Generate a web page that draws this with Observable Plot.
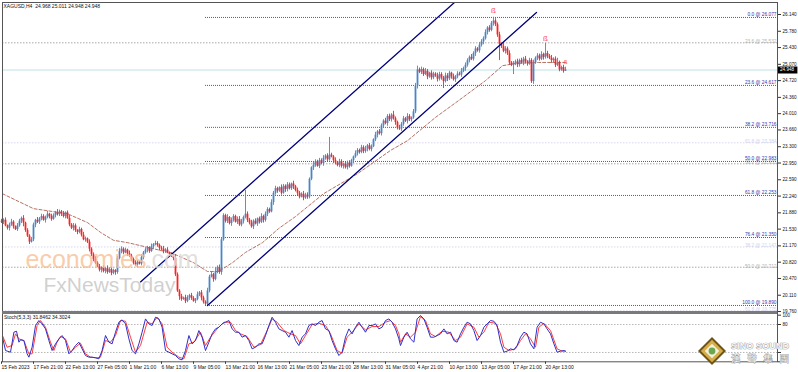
<!DOCTYPE html>
<html><head><meta charset="utf-8">
<script src="https://cdn.jsdelivr.net/npm/d3@7"></script>
<script src="https://cdn.jsdelivr.net/npm/@observablehq/plot@0.6"></script>
<style>
body{margin:0;background:#fff;}
#wrap{position:relative;width:798px;height:372px;overflow:hidden;background:#fff;}
#wrap svg{position:absolute;left:0;}
</style></head><body><div id="wrap"></div>
<script>
// ---------- DATA ----------
const headerText = "XAGUSD,H4  24.968 25.011 24.948 24.948";
const stochTitle = "Stoch(5,3,3) 31.8462 34.3024";
const firstOpen = 21.70;
const closes = [
21.68,
21.72,21.60,21.55,21.62,21.68,21.58,21.52,
21.60,21.70,21.76,21.66,
21.50,21.38,21.25,
21.30,21.62,21.72,
21.68,21.75,21.80,21.72,21.78,21.85,21.80,21.74,21.82,21.88,21.84,21.90,21.86,21.80,21.88,
21.76,21.62,21.55,21.60,21.50,21.46,21.52,
21.40,21.30,21.32,21.25,
21.10,20.98,20.88,20.80,
20.72,20.65,20.70,20.62,20.68,20.60,20.66,20.58,20.64,20.60,
20.90,21.05,
21.10,21.02,21.08,21.00,20.95,
20.88,20.80,20.76,20.82,20.78,
20.92,21.02,21.08,21.12,21.05,
21.15,21.20,21.22,21.18,21.12,
21.10,21.05,21.08,21.02,20.98,20.95,20.90,
20.55,20.20,20.08,
20.02,20.05,19.98,20.06,20.10,20.04,19.98,20.02,20.12,20.16,20.05,19.96,19.92,
20.20,20.50,20.55,
20.45,20.62,20.70,
20.60,21.30,21.82,
21.70,21.78,21.65,21.72,21.80,21.68,21.74,21.62,21.70,21.78,21.85,21.72,
21.66,21.58,21.70,21.64,21.75,21.68,21.80,21.72,
21.85,21.95,21.90,
22.10,22.30,22.40,22.35,
22.42,22.30,22.45,22.38,22.48,22.40,22.50,22.44,22.36,
22.30,22.22,22.28,
22.20,22.26,22.22,
22.60,22.85,
22.90,22.98,22.88,23.00,22.94,23.05,23.10,23.02,23.12,23.08,23.00,22.95,22.90,22.98,22.88,
22.92,22.85,22.95,22.88,23.00,23.08,
23.15,23.22,23.18,23.28,23.20,23.25,23.32,23.24,23.30,
23.45,23.55,23.62,23.58,
23.75,23.85,23.80,23.95,23.88,23.98,23.90,23.82,
23.70,23.68,
23.78,23.90,23.85,23.95,23.88,23.92,24.05,
24.60,24.95,
24.90,24.96,24.85,24.92,24.80,24.88,24.78,24.86,24.82,
24.75,24.85,24.78,24.70,24.82,24.76,24.88,24.80,24.74,
24.80,24.86,24.84,24.92,24.98,25.05,25.15,25.22,25.18,
25.30,25.40,25.36,25.48,25.55,
25.62,25.75,25.85,25.80,25.95,26.00,25.92,
25.70,25.50,25.45,
25.35,25.40,25.30,
25.10,25.05,
25.08,25.12,25.06,25.15,25.10,25.18,25.12,25.08,25.15,
24.70,
25.10,25.20,25.25,25.18,25.28,25.22,25.30,25.24,
25.20,25.15,25.18,25.05,25.10,24.95,25.00,24.92,24.948];
// upper / lower wick lengths in cents
const wickUp = [
4,3,5,2,4,6,3,2,5,4,3,6,2,4,3,5,4,2,6,3,
5,4,3,6,2,5,4,3,7,4,3,5,2,4,6,3,5,4,2,5,
3,6,4,2,5,3,4,6,3,5,2,4,3,6,4,5,3,2,4,6,
5,3,4,2,6,4,3,5,4,2,6,3,5,4,3,6,2,5,4,3,
4,6,3,5,2,4,3,8,4,3,5,2,6,4,3,5,4,2,6,3,
5,4,3,6,4,5,3,8,4,6,5,4,3,6,2,5,4,3,5,6,
4,3,51,5,4,6,3,5,2,4,6,3,5,4,3,6,4,5,3,2,
6,4,3,5,4,2,6,3,5,4,3,6,4,5,3,2,6,4,3,5,
4,6,3,5,38,4,3,6,2,5,4,3,6,4,5,3,2,6,4,3,
5,4,6,3,5,4,2,6,3,5,4,3,6,4,5,3,8,4,3,6,
4,5,3,6,4,2,5,6,8,4,5,3,6,4,2,5,4,3,6,5,
4,3,6,5,4,2,6,3,5,4,6,3,5,4,3,6,4,5,3,6,
5,4,6,3,5,4,8,5,4,6,3,8,5,4,6,3,5,4,6,3,
5,4,6,3,5,4,6,3,5,4,6,3,22,5,4,6,3,5,10,4,
3,5,6];
const wickDn = [
3,5,2,4,6,3,5,2,4,3,5,8,4,3,5,2,4,6,3,5,
4,2,6,3,5,4,2,5,3,4,6,3,5,2,4,3,6,4,5,3,
4,2,5,3,6,4,5,3,2,4,6,3,5,4,2,5,3,6,4,3,
5,4,2,6,3,5,4,3,6,2,4,5,3,6,4,2,5,3,4,6,
3,5,4,2,6,3,5,4,3,8,4,2,5,3,6,4,2,5,3,4,
6,4,3,5,4,2,6,3,5,4,6,3,4,5,3,6,4,2,5,3,
4,6,3,5,4,3,6,2,5,4,3,6,4,5,3,2,6,4,5,3,
4,2,6,5,3,4,6,3,5,4,2,6,3,5,4,3,6,4,2,5,
3,6,4,5,3,2,6,4,3,5,4,6,3,5,4,2,6,3,5,4,
3,5,4,6,3,5,2,4,6,3,5,4,3,6,4,5,3,6,4,3,
5,4,3,6,4,5,3,4,6,3,5,4,2,6,3,5,4,3,6,4,
5,15,3,6,4,5,3,6,4,2,5,3,6,4,5,3,4,6,3,5,
4,6,3,5,4,3,6,4,5,35,4,3,6,4,5,3,20,4,6,5,
3,6,4,5,3,4,6,3,5,4,3,6,4,5,3,6,4,5,3,4,
3,4,0];
// moving average (bar index, price)
const maLine = [[0.5,22.29],[16,21.97],[33,21.86],[43,21.67],[49.5,21.46],[56,21.29],[63,21.24],[73,21.14],
[85.5,21.01],[96,20.81],[103,20.62],[108.5,20.62],[115.5,20.81],[122,21.03],[130.5,21.24],[138.5,21.54],
[147,21.80],[161,22.29],[178,22.72],[194.5,23.22],[203,23.43],[217,23.93],[228.5,24.29],[242,24.72],
[250.5,25.04],[257,25.09],[268.5,25.11],[282,25.11]];
// channel (bar index, price)
const channelUpper = [[69.5,20.396],[230,26.533]];
const channelLower = [[103,19.889],[267.5,26.183]];
// Fibonacci (main, blue) from the 9 Mar low
const fibStartBar = 102;
const fibLevels = [0.0,23.6,38.2,50.0,61.8,76.4,100.0];
const fibPrices = [26.077,24.617,23.716,22.983,22.253,21.350,19.890];
// other fib lines (full width)
const fib2Levels = [23.6,61.8,38.2,38.2,50.0,61.8];
const fib2Prices = [25.532,23.384,22.933,21.147,20.712,19.775];
const fib2Tone = ["grey","lavender","grey","lavender","grey","lavender"];
// fractal markers (bar index, price)
const fractalBars = [246,272,282];
const fractalPrices = [26.226,25.624,25.11];
const fractalSizes = [8,8,6];
// price axis
const priceTicks = [26.140,25.780,25.430,25.070,24.720,24.360,24.010,23.660,23.300,22.950,22.590,22.240,21.880,21.530,21.170,20.820,20.470,20.110,19.760];
// time axis
const tickBars = [0,16,32,48,64,80,96,112,128,144,160,176,192,208,224,240,256,272];
const tickLabels = ["15 Feb 2023","17 Feb 21:00","22 Feb 13:00","27 Feb 05:00","1 Mar 21:00","6 Mar 13:00","9 Mar 05:00","13 Mar 21:00","16 Mar 13:00","21 Mar 05:00","23 Mar 21:00","28 Mar 13:00","31 Mar 05:00","4 Apr 21:00","10 Apr 13:00","13 Apr 05:00","17 Apr 21:00","20 Apr 13:00"];
// stochastic (bar index, value)
const stochK = [[0.5,52.8],[2,24.2],[4.5,20.6],[6.2,63.5],[7.5,65.6],[8.7,42.1],[9.5,47.1],[11.2,45.6],[12.8,17.1],[13.7,9.9],[15.3,31.3],[17,77.8],[18.7,88.5],[20.3,81.3],[22,70.6],[23.7,45.6],[25.3,24.2],[27,38.5],[28.7,49.2],[30.3,56.3],[32,45.6],[33.7,17.1],[35.3,24.2],[37,34.9],[38.7,42.1],[40.3,27.8],[42,13.5],[43.7,9.9],[45.3,9.9],[47,8.5],[48.7,6.4],[50.3,24.2],[52,56.3],[53.7,42.1],[55.3,38.5],[57,63.5],[58.7,84.9],[60.3,89.9],[62,81.3],[63.7,49.2],[65.3,24.2],[67,17.1],[68.7,38.5],[70.3,63.5],[72,92.0],[73.7,81.3],[75.3,77.8],[77,95.6],[78.7,92.0],[80.3,74.2],[82,24.2],[83.7,20.6],[85.3,17.1],[87,13.5],[88.7,6.4],[90.3,4.2],[92,24.2],[93.7,56.3],[95.3,38.5],[97,45.6],[98.7,67.0],[100.3,52.8],[102,24.2],[103.7,42.1],[105.3,59.9],[107,70.6],[108.7,74.2],[110.3,81.3],[112,84.9],[113.7,88.5],[115.3,70.6],[117,63.5],[118.7,63.5],[120.3,52.8],[122,56.3],[123.7,45.6],[125.3,27.8],[127,31.3],[128.7,38.5],[130.3,38.5],[132,56.3],[133.7,77.8],[135.3,95.6],[137,84.9],[138.7,70.6],[140.3,67.0],[142,63.5],[143.7,52.8],[145.3,67.0],[147,45.6],[148.7,34.9],[150.3,52.8],[152,59.9],[153.7,77.8],[155.3,81.3],[157,77.8],[158.7,84.9],[160.3,88.5],[162,70.6],[163.7,67.0],[165.3,45.6],[167,27.8],[168.7,13.5],[170.3,20.6],[172,52.8],[173.7,70.6],[175.3,59.9],[177,74.2],[178.7,84.9],[180.3,74.2],[182,63.5],[183.7,77.8],[185.3,77.8],[187,81.3],[188.7,70.6],[190.3,74.2],[192,88.5],[193.7,92.0],[195.3,84.9],[197,70.6],[198.7,49.2],[199.5,34.9],[201.2,52.8],[202.8,63.5],[204.5,49.2],[206.2,42.1],[207.8,92.0],[209.5,99.2],[211.2,92.0],[212.8,74.2],[214.5,52.8],[216.2,52.8],[217.8,56.3],[219.5,59.9],[221.2,70.6],[222.8,59.9],[224.5,63.5],[226.2,45.6],[227.8,42.1],[229.5,59.9],[231.2,74.2],[232.8,84.9],[234.5,81.3],[236.2,67.0],[237.8,45.6],[239.5,56.3],[241.2,74.2],[242.8,81.3],[244.5,88.5],[246.2,87.0],[247.8,77.8],[249.5,42.1],[251.2,20.6],[252.8,22.8],[254.5,27.8],[256.2,25.6],[257.8,34.9],[259.5,52.8],[261.2,63.5],[262.8,59.9],[264.5,38.5],[266.2,27.8],[267.8,74.2],[269.5,84.9],[271.2,81.3],[272.8,70.6],[274.5,59.9],[276.2,38.5],[277.8,20.6],[279.5,22.8],[281.2,24.2],[282,22.8]];
const stochD = [[0.5,56.3],[2.8,31.3],[5.3,34.9],[7,59.9],[8.7,49.2],[11.2,45.6],[13.7,17.1],[15.3,17.1],[17.8,77.8],[19.5,88.5],[22,74.2],[24.5,42.1],[26.2,24.2],[27.8,42.1],[29.5,54.2],[32,49.2],[34.5,20.6],[37,31.3],[39.5,39.9],[42,17.1],[44.5,9.9],[47.8,8.5],[49.5,9.9],[52,45.6],[54.5,42.1],[57,56.3],[59.5,88.5],[62,87.0],[64.5,52.8],[67,20.6],[69.5,34.9],[72.8,84.9],[75.3,81.3],[77.8,95.6],[80.3,81.3],[82.8,31.3],[85.3,20.6],[88.7,9.9],[91.2,6.4],[93.7,38.5],[96.2,42.1],[99.5,63.5],[102,34.9],[104.5,52.8],[107.8,70.6],[111.2,84.9],[114.5,84.9],[117,67.0],[119.5,59.9],[122.8,54.2],[126.2,31.3],[129.5,37.1],[132.8,67.0],[135.3,92.0],[137.8,84.9],[141.2,67.0],[144.5,59.9],[147,56.3],[149.5,38.5],[152,56.3],[155.3,79.9],[158.7,82.7],[162,77.8],[164.5,59.9],[167.8,24.2],[170.3,18.5],[172.8,52.8],[175.3,63.5],[178.7,81.3],[182,68.5],[185.3,75.6],[188.7,75.6],[192,84.9],[194.5,88.5],[197,77.8],[198.7,59.9],[199.5,42.1],[202,59.9],[204.5,52.8],[207,63.5],[209.5,97.0],[212,88.5],[214.5,59.9],[217,54.2],[220.3,65.6],[223.7,63.5],[227,45.6],[229.5,52.8],[232.8,81.3],[236.2,74.2],[238.7,52.8],[241.2,63.5],[243.7,84.9],[247,82.7],[249.5,59.9],[251.2,31.3],[253.7,24.2],[257,27.8],[259.5,45.6],[262,59.9],[264.5,49.2],[267,31.3],[268.7,74.2],[271.2,82.7],[274.5,67.0],[277.8,27.8],[280.3,22.8],[282,22.8]];
const stochLevels = [80,20];
const stochTicks = [100,80,20,0];
const stochTickLabels = ["100","80","",""]; // 20 and 0 are hidden behind the logo in the reference

// ---------- BUILD ----------
const FONT = "Liberation Sans, Arial, sans-serif";
const UP = "#4a84c4", DN = "#ff2020";
const xMax = 388;
const bars = closes.map((c, i) => {
  const o = i ? closes[i - 1] : firstOpen;
  return {i, o, c, h: Math.max(o, c) + wickUp[i] / 100, l: Math.min(o, c) - wickDn[i] / 100, up: c >= o};
});
const lastClose = closes[closes.length - 1];
const fibMain = fibLevels.map((lv, k) => ({level: lv, price: fibPrices[k]}));
const fibOther = fib2Levels.map((lv, k) => ({level: lv, price: fib2Prices[k], tone: fib2Tone[k]}));
const toneLine = {grey: "#a9a9a9", lavender: "#d6d6f0"};
const toneText = {grey: "#b4b4b4", lavender: "#d2d2ee"};
const fractals = fractalBars.map((b, k) => ({i: b, p: fractalPrices[k], s: fractalSizes[k]}));
const fibText = d => `${d.level.toFixed(1)} @ ${d.price.toFixed(3)}`;

const main = Plot.plot({
  width: 798, height: 313,
  marginLeft: 2, marginRight: 21, marginTop: 2, marginBottom: 1,
  x: {domain: [0.5, xMax], axis: null},
  y: {domain: [19.739, 26.398], axis: null},
  color: {type: "identity"},
  style: {fontFamily: FONT, background: "transparent", overflow: "visible"},
  marks: [
    Plot.ruleY(fibOther, {y: "price", stroke: d => toneLine[d.tone], strokeDasharray: "1.5,1.5"}),
    Plot.text(fibOther, {x: () => xMax, y: "price", text: fibText, textAnchor: "end", dx: -1, dy: -1, fontSize: 4.8, fill: d => toneText[d.tone]}),
    Plot.ruleY([lastClose], {stroke: "#bfe1ea"}),
    Plot.ruleY(fibMain, {y: "price", x1: () => fibStartBar, x2: () => xMax, stroke: "#3c3cd0", strokeDasharray: "1,1", strokeOpacity: 0.9}),
    Plot.text(fibMain, {x: () => xMax, y: "price", text: fibText, textAnchor: "end", dx: -1, dy: -2.8, fontSize: 4.8, fill: "#3434b0"}),
    Plot.line(maLine, {x: d => d[0], y: d => d[1], stroke: "#b0604f", strokeDasharray: "3,2", strokeWidth: 0.9}),
    Plot.ruleX(bars, {x: "i", y1: "l", y2: "h", stroke: d => d.up ? UP : DN, strokeWidth: 0.9}),
    Plot.ruleX(bars, {x: "i", y1: "o", y2: "c", stroke: d => d.up ? UP : DN, strokeWidth: 1.8}),
    Plot.line(channelUpper, {x: d => d[0], y: d => d[1], stroke: "#00007a", strokeWidth: 1.3, clip: true}),
    Plot.line(channelLower, {x: d => d[0], y: d => d[1], stroke: "#00007a", strokeWidth: 1.3, clip: true}),
    Plot.text(fractals, {x: "i", y: "p", text: () => "ß", fill: "#ff3a3a", fontSize: d => d.s}),
    Plot.text(["economies"], {frameAnchor: "top-left", dx: 23, dy: 257.5, fontSize: 25, textAnchor: "start", lineAnchor: "middle", fill: "#f7bf96", fillOpacity: 0.8}),
    Plot.text([".com"], {frameAnchor: "top-left", dx: 142, dy: 257.5, fontSize: 25, textAnchor: "start", lineAnchor: "middle", fill: "#dedad8", fillOpacity: 0.85}),
    Plot.text(["FxNewsToday"], {frameAnchor: "top-left", dx: 41, dy: 283, fontSize: 21, textAnchor: "start", lineAnchor: "middle", fill: "#c8c8c8", fillOpacity: 0.85}),
    Plot.text([headerText], {frameAnchor: "top-left", dx: 1, dy: 1.5, fontSize: 5, textAnchor: "start", fill: "#111"}),
    Plot.axisY(priceTicks, {anchor: "right", tickSize: 3, tickPadding: 2, fontSize: 4.6, tickFormat: d => d.toFixed(3), stroke: "#333", fill: "#111"}),
    Plot.ruleY([lastClose], {x1: () => xMax, x2: () => xMax + 10.2, stroke: "#000", strokeWidth: 7}),
    Plot.text([lastClose], {x: () => xMax, y: d => d, dx: 2.5, text: d => d.toFixed(3), textAnchor: "start", fontSize: 4.6, fill: "#fff"}),
    Plot.frame({stroke: "#555"})
  ]
});
main.style.top = "0px";

const stoch = Plot.plot({
  width: 798, height: 60,
  marginLeft: 2, marginRight: 21, marginTop: 1, marginBottom: 10.7,
  x: {domain: [0.5, xMax], axis: null},
  y: {domain: [0, 103.6], axis: null},
  style: {fontFamily: FONT, background: "transparent", overflow: "visible"},
  marks: [
    Plot.ruleY(stochLevels, {stroke: "#b8b8b8", strokeDasharray: "1.5,1.5"}),
    Plot.line(stochD, {x: d => d[0], y: d => d[1], stroke: "#ff3c3c", strokeWidth: 1}),
    Plot.line(stochK, {x: d => d[0], y: d => d[1], stroke: "#3030c8", strokeWidth: 1}),
    Plot.text([stochTitle], {frameAnchor: "top-left", dx: 1.5, dy: 2, fontSize: 5, textAnchor: "start", fill: "#111"}),
    Plot.axisY(stochTicks, {anchor: "right", tickSize: 3, tickPadding: 2, fontSize: 4.6, tickFormat: d => stochTickLabels[stochTicks.indexOf(d)], stroke: "#333", fill: "#111"}),
    Plot.axisX(tickBars, {anchor: "bottom", tickSize: 2.5, tickPadding: 1, fontSize: 5, textAnchor: "start", tickFormat: d => tickLabels[tickBars.indexOf(d)], stroke: "#333", fill: "#111"}),
    Plot.frame({stroke: "#555"})
  ]
});
stoch.style.top = "312px";

const wrap = document.getElementById("wrap");
wrap.appendChild(main);
wrap.appendChild(stoch);
const sep = document.createElement("div");
sep.style.cssText = "position:absolute;left:2px;top:311px;width:775px;height:2.5px;background:#7a7a7a;";
wrap.appendChild(sep);

// logo overlay (decoration)
const logo = d3.create("svg").attr("width", 798).attr("height", 372).style("top", "0px").style("pointer-events", "none");
const cx = 712, cy = 351, r = 14;
const dia = s => [[cx, cy - r * s], [cx + r * s, cy], [cx, cy + r * s], [cx - r * s, cy]].map(p => p.join(",")).join(" ");
logo.append("polygon").attr("points", dia(1)).attr("fill", "#6e5418");
logo.append("polygon").attr("points", dia(0.8)).attr("fill", "#d6ae4a");
logo.append("polygon").attr("points", dia(0.52)).attr("fill", "#f4f0dc");
logo.append("circle").attr("cx", cx).attr("cy", cy).attr("r", 3.4).attr("fill", "#6aa84f");
logo.append("text").attr("x", 731).attr("y", 348.5).attr("font-family", FONT).attr("font-weight", "bold").attr("font-size", 9)
  .attr("fill", "#f6f6f6").attr("stroke", "#8c8c8c").attr("stroke-width", 0.7).attr("paint-order", "stroke")
  .attr("textLength", 58).text("SINO SOUND");
logo.append("text").attr("x", 731).attr("y", 362).attr("font-family", "Noto Sans CJK TC").attr("font-size", 9.5)
  .attr("fill", "#f6f6f6").attr("stroke", "#8c8c8c").attr("stroke-width", 0.7).attr("paint-order", "stroke")
  .attr("textLength", 58).text("漢 聲 集 團");
wrap.appendChild(logo.node());
</script></body></html>
